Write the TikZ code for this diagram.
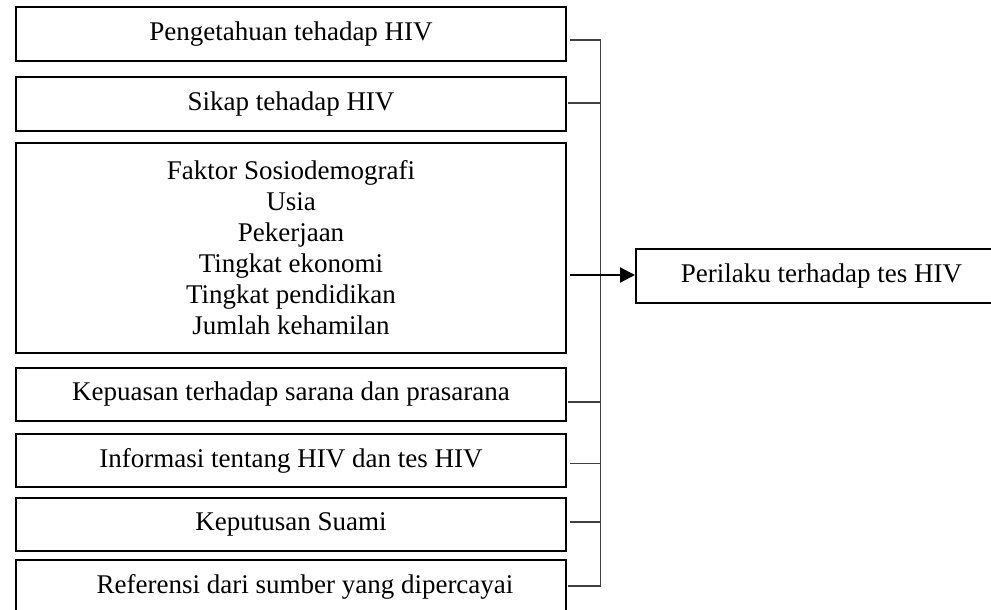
\documentclass[tikz,border=0pt]{standalone}
\usepackage{fontspec}
\setmainfont{Liberation Serif}
\usetikzlibrary{arrows.meta}
\begin{document}
\begin{tikzpicture}[x=1pt,y=-1pt,
  box/.style={draw=black,line width=2pt,minimum width=550pt,inner sep=0pt,align=center,
    font=\fontsize{27}{31}\selectfont},
  thin/.style={draw=black!75,line width=1.1pt},
  mainarrow/.style={draw=black,line width=2.2pt,-{Triangle[length=15pt,width=15pt]}}]
\useasboundingbox (0,0) rectangle (991,610);
\node[box,minimum height=54pt] (b1) at (291,34) {Pengetahuan tehadap HIV};
\node[box,minimum height=54pt] (b2) at (291,104) {Sikap tehadap HIV};
\node[box,minimum height=210pt] (b3) at (291,248) {Faktor Sosiodemografi\\Usia\\Pekerjaan\\Tingkat ekonomi\\Tingkat pendidikan\\Jumlah kehamilan};
\node[box,minimum height=53pt] (b4) at (291,394.5) {Kepuasan terhadap sarana dan prasarana};
\node[box,minimum height=53pt] (b5) at (291,460.5) {Informasi tentang HIV dan tes HIV};
\node[box,minimum height=53pt] (b6) at (291,524.5) {Keputusan Suami};
\node[box,minimum height=54pt] (b7) at (291,587) {\hspace*{28pt}Referensi dari sumber yang dipercayai};
\node[box,minimum width=357pt,minimum height=54pt] (out) at (814.5,276) {\hspace*{14pt}Perilaku terhadap tes HIV};
\coordinate (j1) at (600.5,40);
\coordinate (j2) at (600.5,103);
\coordinate (j4) at (600.5,402);
\coordinate (j5) at (600.5,463.5);
\coordinate (j6) at (600.5,522);
\coordinate (j7) at (600.5,586);
\draw[thin] ([xshift=3pt]b1.east |- j1) -- (j1) -- (j7);
\draw[thin] ([xshift=1pt]b2.east |- j2) -- (j2);
\draw[thin] ([xshift=1pt]b4.east |- j4) -- (j4);
\draw[thin] ([xshift=3pt]b5.east |- j5) -- (j5);
\draw[thin] ([xshift=3pt]b6.east |- j6) -- (j6);
\draw[thin] ([xshift=1pt]b7.east |- j7) -- (j7);
\draw[mainarrow] ([xshift=3pt]b3.east |- 0,275) -- (out.west |- 0,275);
\end{tikzpicture}
\end{document}
